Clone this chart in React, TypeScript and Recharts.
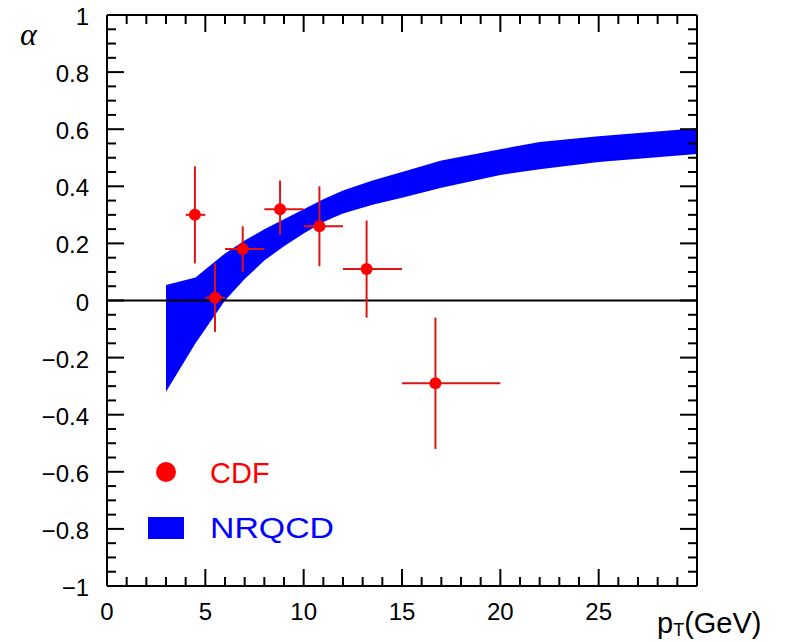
import React from 'react';
import {
  Area,
  ComposedChart,
  ErrorBar,
  Label,
  Legend,
  ReferenceLine,
  Scatter,
  XAxis,
  YAxis,
} from 'recharts';

// NRQCD band (lower / upper edge) vs pT
const bandPt = [3, 4.5, 6, 7, 8, 9, 10, 11, 12, 13.5, 15, 17, 20, 22, 25, 30];
const bandLow = [-0.32, -0.15, 0.0, 0.075, 0.14, 0.19, 0.235, 0.275, 0.305, 0.335, 0.36, 0.395, 0.44, 0.46, 0.485, 0.513];
const bandHigh = [0.054, 0.081, 0.165, 0.21, 0.25, 0.285, 0.32, 0.355, 0.385, 0.42, 0.45, 0.49, 0.53, 0.555, 0.575, 0.603];

// CDF points
const cdfPt = [4.47, 5.49, 6.9, 8.8, 10.8, 13.2, 16.7];
const cdfAlpha = [0.3, 0.01, 0.18, 0.32, 0.26, 0.11, -0.29];
const cdfAlphaLo = [0.13, -0.11, 0.1, 0.23, 0.12, -0.06, -0.52];
const cdfAlphaHi = [0.47, 0.13, 0.26, 0.42, 0.4, 0.28, -0.06];
const cdfPtLo = [4, 5, 6, 8, 10, 12, 15];
const cdfPtHi = [5, 6, 8, 10, 12, 15, 20];

const xTicks = Array.from({ length: 31 }, (_, i) => i);
const yTicks = Array.from({ length: 41 }, (_, i) => Math.round((-1 + i * 0.05) * 100) / 100);

const bandData = bandPt.map((x, i) => ({ x, lo: bandLow[i], hi: bandHigh[i] }));
const cdfData = cdfPt.map((x, i) => ({
  x,
  y: cdfAlpha[i],
  ex: [x - cdfPtLo[i], cdfPtHi[i] - x],
  ey: [cdfAlpha[i] - cdfAlphaLo[i], cdfAlphaHi[i] - cdfAlpha[i]],
}));

const FONT = '"Liberation Sans", Arial, sans-serif';

const fmtY = (v: number) => String(v).replace('-', '\u2212');
const isMajorY = (v: number) => Math.round(v * 100) % 20 === 0;

const BottomTick = ({ x, y, payload }: any) => {
  const v = payload.value;
  const major = v % 5 === 0;
  return (
    <g>
      <line x1={x} y1={y} x2={x} y2={y - (major ? 17 : 9)} stroke="#000" strokeWidth={2} />
      {major && v < 30 && (
        <text x={x} y={y + 34} textAnchor="middle" fontSize={24} fontFamily={FONT} fill="#000">
          {v}
        </text>
      )}
    </g>
  );
};

const TopTick = ({ x, y, payload }: any) => {
  const major = payload.value % 5 === 0;
  return <line x1={x} y1={y} x2={x} y2={y + (major ? 17 : 9)} stroke="#000" strokeWidth={2} />;
};

const LeftTick = ({ x, y, payload }: any) => {
  const v = payload.value;
  const major = isMajorY(v);
  return (
    <g>
      <line x1={x} y1={y} x2={x + (major ? 17 : 9)} y2={y} stroke="#000" strokeWidth={2} />
      {major && (
        <text x={x - 18} y={y + 10} textAnchor="end" fontSize={24} fontFamily={FONT} fill="#000">
          {fmtY(v)}
        </text>
      )}
    </g>
  );
};

const RightTick = ({ x, y, payload }: any) => {
  const major = isMajorY(payload.value);
  return <line x1={x} y1={y} x2={x - (major ? 17 : 9)} y2={y} stroke="#000" strokeWidth={2} />;
};

const renderPtLabel = ({ viewBox }: any) => (
  <text x={viewBox.x + viewBox.width - 40} y={viewBox.y + 47} fontSize={29} fontFamily={FONT} fill="#000">
    p
    <tspan fontSize={18} dy={3}>T</tspan>
    <tspan dy={-3} fontSize={29}>(GeV)</tspan>
  </text>
);

const renderAlphaLabel = ({ viewBox }: any) => (
  <text x={viewBox.x + 3} y={viewBox.y + 30} fontSize={32} fontStyle="italic" fontFamily='"Liberation Serif", serif' fill="#000">
    α
  </text>
);

const renderLegend = () => (
  <svg width={220} height={100}>
    <circle cx={28} cy={19} r={10} fill="#ff0000" />
    <text x={72} y={30} fontSize={29} fontFamily={FONT} fill="#ff0000">
      CDF
    </text>
    <rect x={10} y={64} width={36} height={22} fill="#0000ff" />
    <text x={72} y={85} fontSize={29} fontFamily={FONT} fill="#0000ff" textLength={124} lengthAdjust="spacingAndGlyphs">
      NRQCD
    </text>
  </svg>
);

export default function App() {
  return (
    <div style={{ fontFamily: FONT, position: 'relative', left: -8, top: -8 }}>
      <ComposedChart
        width={789}
        height={642}
        data={bandData}
        margin={{ top: 14, right: 82, bottom: 6, left: 17 }}
      >
        <XAxis
          dataKey="x"
          type="number"
          domain={[0, 30]}
          ticks={xTicks}
          interval={0}
          allowDataOverflow
          height={50}
          tickSize={0}
          tickMargin={0}
          tickLine={false}
          axisLine={{ stroke: '#000', strokeWidth: 2 }}
          tick={<BottomTick />}
        >
          <Label content={renderPtLabel} />
        </XAxis>
        <XAxis
          xAxisId="top"
          orientation="top"
          dataKey="x"
          type="number"
          domain={[0, 30]}
          ticks={xTicks}
          interval={0}
          allowDataOverflow
          height={1}
          tickSize={0}
          tickMargin={0}
          tickLine={false}
          axisLine={{ stroke: '#000', strokeWidth: 2 }}
          tick={<TopTick />}
        />
        <YAxis
          type="number"
          domain={[-1, 1]}
          ticks={yTicks}
          interval={0}
          allowDataOverflow
          width={90}
          tickSize={0}
          tickMargin={0}
          tickLine={false}
          axisLine={{ stroke: '#000', strokeWidth: 2 }}
          tick={<LeftTick />}
        >
          <Label content={renderAlphaLabel} />
        </YAxis>
        <YAxis
          yAxisId="right"
          orientation="right"
          type="number"
          domain={[-1, 1]}
          ticks={yTicks}
          interval={0}
          allowDataOverflow
          width={10}
          tickSize={0}
          tickMargin={0}
          tickLine={false}
          axisLine={{ stroke: '#000', strokeWidth: 2 }}
          tick={<RightTick />}
        />
        <Area
          dataKey={(d: any) => [d.lo, d.hi]}
          name="NRQCD"
          type="linear"
          stroke="none"
          fill="#0000ff"
          fillOpacity={1}
          dot={false}
          activeDot={false}
          isAnimationActive={false}
        />
        <ReferenceLine y={0} stroke="#000" strokeWidth={2} />
        <Scatter
          data={cdfData}
          dataKey="y"
          name="CDF"
          isAnimationActive={false}
          shape={(p: any) => <circle cx={p.cx} cy={p.cy} r={6} fill="#ff0000" />}
        >
          <ErrorBar dataKey="ey" direction="y" width={0} stroke="#dd1414" strokeWidth={2} isAnimationActive={false} />
          <ErrorBar dataKey="ex" direction="x" width={0} stroke="#dd1414" strokeWidth={2} isAnimationActive={false} />
        </Scatter>
        <Legend
          layout="vertical"
          align="center"
          verticalAlign="middle"
          content={renderLegend}
          wrapperStyle={{ position: 'absolute', left: 138, top: 453, width: 220, height: 100 }}
        />
      </ComposedChart>
    </div>
  );
}
